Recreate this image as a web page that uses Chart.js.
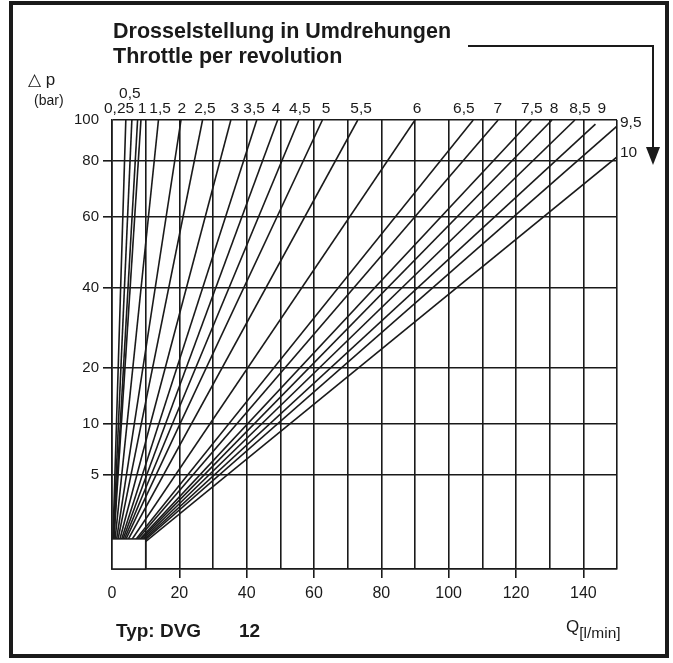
<!DOCTYPE html>
<html>
<head>
<meta charset="utf-8">
<script src="https://cdn.jsdelivr.net/npm/chart.js@4.4.1/dist/chart.umd.min.js"></script>
<style>
html, body { margin: 0; padding: 0; background: #fff; }
#wrap { position: relative; width: 673px; height: 663px; overflow: hidden; font-family: "Liberation Sans", Arial, sans-serif; color: #1a1a1a; }
#chart { position: absolute; left: 0; top: 0; }
.frame { position: absolute; left: 9px; top: 1px; width: 652px; height: 649px; border: 4.5px solid #1a1a1a; }
.t { position: absolute; white-space: nowrap; line-height: 1; }
svg { position: absolute; left: 0; top: 0; }
</style>
</head>
<body>
<div id="wrap">
  <canvas id="chart" width="673" height="663"></canvas>
  <div class="frame"></div>
  <div class="t" style="left:113px; top:21px; font-size:21.5px; font-weight:bold">Drosselstellung in Umdrehungen</div>
  <div class="t" style="left:113px; top:46px; font-size:21.5px; font-weight:bold">Throttle per revolution</div>
  <div class="t" style="left:28px; top:71px; font-size:17px">△ p</div>
  <div class="t" style="left:34px; top:93px; font-size:14px">(bar)</div>
  <div class="t" style="left:116px; top:621px; font-size:19px; font-weight:bold">Typ: DVG</div>
  <div class="t" style="left:239px; top:621px; font-size:19px; font-weight:bold">12</div>
  <div class="t" style="left:566px; top:618px; font-size:17px">Q<span style="font-size:15.5px; position:relative; top:6px">[l/min]</span></div>
  <svg width="673" height="663">
    <polyline points="468,46 653,46 653,150" fill="none" stroke="#1a1a1a" stroke-width="2"/>
    <polygon points="646,147 660,147 653,165" fill="#1a1a1a"/>
  </svg>
</div>
<script>
// throttle settings (turns) and where each line leaves the chart
const settings = ['0,25', '0,5', '0,75', '1', '1,5', '2', '2,5', '3', '3,5', '4', '4,5',
                  '5', '5,5', '6', '6,5', '7', '7,5', '8', '8,5', '9', '9,5', '10'];
const endQ = [4.1, 5.9, 7.6, 8.6, 13.8, 20.5, 26.9, 35.3, 43.0, 49.2, 55.5,
              62.5, 73.0, 90.0, 107.3, 114.7, 124.6, 130.7, 137.5, 143.6, 150, 150];
const endP = [100, 100, 100, 100, 100, 100, 100, 100, 100, 100, 100,
              100, 100, 100, 100, 100, 100, 100, 100, 98, 97, 82];

// labels along the top edge and on the right edge
const topLabels = ['0,25', '0,5', '1', '1,5', '2', '2,5', '3', '3,5', '4', '4,5', '5',
                   '5,5', '6', '6,5', '7', '7,5', '8', '8,5', '9'];
const topLabelQ = [2.1, 5.3, 8.9, 14.3, 20.7, 27.6, 36.5, 42.2, 48.7, 55.8, 63.6,
                   74, 90.6, 104.5, 114.6, 124.7, 131.3, 139, 145.5];
const rightLabels = ['9,5', '10'];
const rightLabelP = [98.5, 83.9];

const yTicks = [0, 5, 10, 20, 40, 60, 80, 100];
// the pressure axis is not evenly spaced: value -> fraction of axis height
const yBreaks = [[0, 0], [5, 0.2094], [10, 0.3229], [20, 0.4477], [40, 0.6258],
                 [60, 0.7846], [80, 0.9087], [100, 1]];

// blank box in the lower left corner
const boxQ = 10;
const boxP = 1.6;

const ink = '#1a1a1a';

class PiecewiseScale extends Chart.LinearScale {
  static id = 'piecewise';
  static defaults = Chart.LinearScale.defaults;
  getPixelForValue(value) {
    if (value === null || value === undefined || isNaN(value)) return NaN;
    const b = yBreaks;
    let dec = b[b.length - 1][1];
    if (value <= b[0][0]) dec = b[0][1];
    else {
      for (let i = 1; i < b.length; i++) {
        if (value <= b[i][0]) {
          dec = b[i - 1][1] + (b[i][1] - b[i - 1][1]) * (value - b[i - 1][0]) / (b[i][0] - b[i - 1][0]);
          break;
        }
      }
    }
    return this.getPixelForDecimal(dec);
  }
  getValueForPixel(pixel) {
    const d = this.getDecimalForPixel(pixel);
    const b = yBreaks;
    for (let i = 1; i < b.length; i++) {
      if (d <= b[i][1]) {
        return b[i - 1][0] + (b[i][0] - b[i - 1][0]) * (d - b[i - 1][1]) / (b[i][1] - b[i - 1][1]);
      }
    }
    return b[b.length - 1][0];
  }
}
Chart.register(PiecewiseScale);

Chart.defaults.font.family = '"Liberation Sans", Arial, sans-serif';
Chart.defaults.color = ink;

const boxPlugin = {
  id: 'cornerBox',
  afterDatasetsDraw(chart) {
    const { ctx, scales: { x, y } } = chart;
    const l = x.getPixelForValue(0), r = x.getPixelForValue(boxQ);
    const t = y.getPixelForValue(boxP), b = y.getPixelForValue(0);
    ctx.save();
    ctx.fillStyle = '#fff';
    ctx.fillRect(l, t, r - l, b - t);
    ctx.strokeStyle = ink;
    ctx.lineWidth = 1.5;
    ctx.strokeRect(l, t, r - l, b - t);
    ctx.restore();
  }
};

const datasets = settings.map((s, i) => ({
  label: s,
  data: [{ x: 0, y: 0 }, { x: endQ[i], y: endP[i] }],
  borderColor: ink,
  borderWidth: 1.6,
  pointRadius: 0,
  tension: 0,
  xAxisID: 'x',
  yAxisID: 'y'
}));

new Chart(document.getElementById('chart'), {
  type: 'line',
  data: { datasets },
  plugins: [boxPlugin],
  options: {
    responsive: false,
    animation: false,
    layout: { padding: 0 },
    plugins: { legend: { display: false }, tooltip: { enabled: false } },
    scales: {
      x: {
        type: 'linear', position: 'bottom', min: 0, max: 150,
        afterFit: s => { s.height = 94; },
        ticks: {
          stepSize: 10, autoSkip: false, maxRotation: 0, padding: 6,
          font: { size: 16 },
          callback: v => (v % 20 === 0 && v < 150 ? v : '')
        },
        grid: {
          color: ink, lineWidth: 1.6, tickLength: 9,
          tickColor: c => (c.tick && c.tick.value % 20 === 0 && c.tick.value > 0 && c.tick.value < 150 ? ink : 'rgba(0,0,0,0)')
        },
        border: { color: ink, width: 1.6 }
      },
      x2: {
        type: 'linear', position: 'top', min: 0, max: 150,
        afterFit: s => { s.height = 120; },
        afterBuildTicks: s => { s.ticks = topLabelQ.map(v => ({ value: v })); },
        ticks: {
          autoSkip: false, maxRotation: 0, padding: 3.5,
          font: { size: 15.5, lineHeight: 1 },
          callback: (v, i) => (topLabels[i] === '0,5' ? ['0,5', ''] : topLabels[i])
        },
        grid: { display: false, drawTicks: false },
        border: { display: false }
      },
      y: {
        type: 'piecewise', position: 'left', min: 0, max: 100,
        afterFit: s => { s.width = 112; },
        afterBuildTicks: s => { s.ticks = yTicks.map(v => ({ value: v })); },
        ticks: {
          autoSkip: false, padding: 4,
          font: { size: 15 },
          callback: v => (v === 0 ? '' : v)
        },
        grid: {
          color: ink, lineWidth: 1.6, tickLength: 9,
          tickColor: c => (c.tick && c.tick.value > 0 && c.tick.value < 100 ? ink : 'rgba(0,0,0,0)')
        },
        border: { color: ink, width: 1.6 }
      },
      y2: {
        type: 'piecewise', position: 'right', min: 0, max: 100,
        afterFit: s => { s.width = 56; },
        afterBuildTicks: s => { s.ticks = rightLabelP.map(v => ({ value: v })); },
        ticks: {
          autoSkip: false, padding: 3,
          font: { size: 15.5 },
          callback: (v, i) => rightLabels[i]
        },
        grid: { display: false, drawTicks: false },
        border: { display: false }
      }
    }
  }
});
</script>
</body>
</html>
